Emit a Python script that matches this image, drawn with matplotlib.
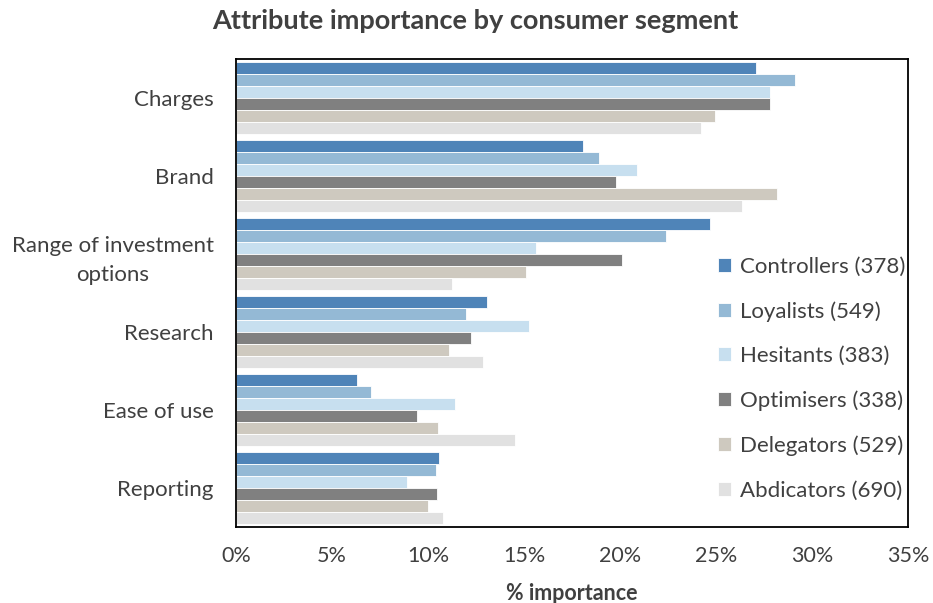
import matplotlib
matplotlib.use("Agg")
import matplotlib.pyplot as plt
import numpy as np
from matplotlib.ticker import PercentFormatter

plt.rcParams['font.family'] = ['Lato', 'DejaVu Sans']

TITLE = "Attribute importance by consumer segment"
LABEL_X = "% importance"

categories = ["Charges", "Brand", "Range of investment\noptions", "Research",
              "Ease of use", "Reporting"]
segments = ["Controllers (378)", "Loyalists (549)", "Hesitants (383)",
            "Optimisers (338)", "Delegators (529)", "Abdicators (690)"]
colors = ["#4F84B8", "#94B9D5", "#C7DFEF", "#808080", "#CEC9BF", "#E1E1E1"]

controllers = [27.1, 18.1, 24.7, 13.1, 6.3, 10.6]
loyalists = [29.1, 18.9, 22.4, 12.0, 7.05, 10.4]
hesitants = [27.8, 20.9, 15.65, 15.25, 11.4, 8.9]
optimisers = [27.8, 19.8, 20.1, 12.25, 9.45, 10.45]
delegators = [24.95, 28.2, 15.1, 11.1, 10.5, 10.0]
abdicators = [24.2, 26.35, 11.25, 12.85, 14.55, 10.8]
series = [controllers, loyalists, hesitants, optimisers, delegators, abdicators]

fig = plt.figure(figsize=(9.33, 6.03), dpi=100)
ax = fig.add_axes([0.253, 0.126, 0.720, 0.776])

n = len(series)
h = 0.925 / n
y = np.arange(len(categories))
for j, (vals, name, c) in enumerate(zip(series, segments, colors)):
    ax.barh(y - 0.4625 + h * (j + 0.5), vals, height=h, color=c,
            edgecolor="white", linewidth=0.6, label=name)

ax.set_ylim(len(categories) - 0.5, -0.5)
ax.set_xlim(0, 35)
ax.set_xticks(np.arange(0, 36, 5))
ax.xaxis.set_major_formatter(PercentFormatter(decimals=0))
ax.set_yticks(y)
ax.set_yticklabels(categories, multialignment="center", linespacing=1.55)
ax.tick_params(axis="both", length=0, labelsize=16, colors="#404040")
ax.tick_params(axis="x", labelsize=15.5, pad=14)
ax.tick_params(axis="y", pad=16)
for s in ax.spines.values():
    s.set_color("black")
    s.set_linewidth(1.3)

ax.set_xlabel(LABEL_X, fontsize=15.5, fontweight="bold", color="#404040",
              labelpad=12)
fig.suptitle(TITLE, x=0.509, y=0.985, fontsize=19.5, fontweight="bold",
             color="#404040")

ax.legend(loc="center left", bbox_to_anchor=(0.748, 0.372), bbox_transform=fig.transFigure,
          frameon=False, fontsize=16, handlelength=0.6, handleheight=0.6,
          handletextpad=0.4, labelspacing=1.1, labelcolor="#404040")

fig.savefig("out.png", dpi=100)
